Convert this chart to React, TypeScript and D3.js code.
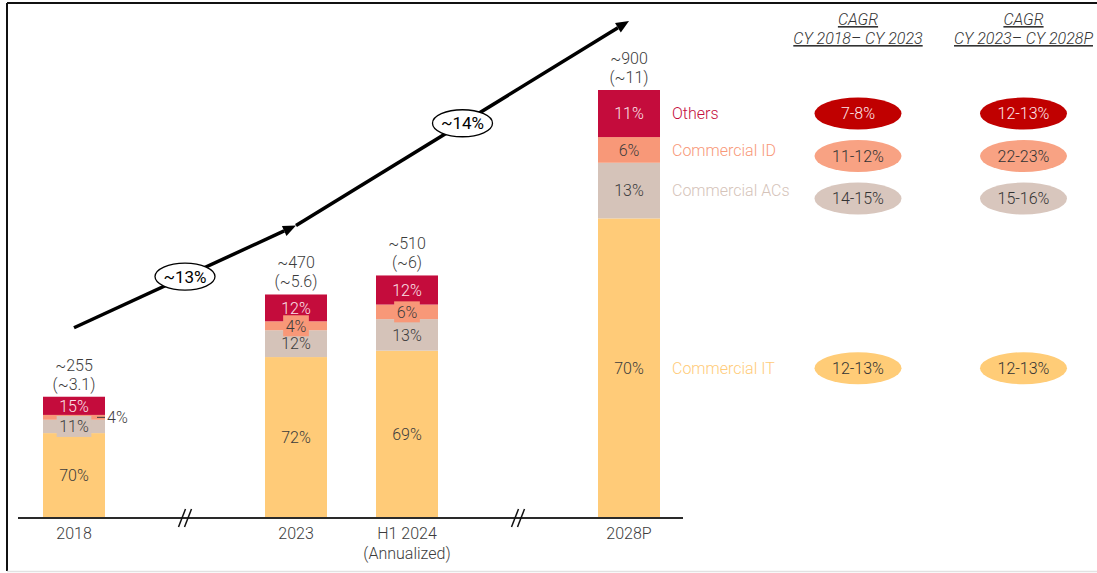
import React from "react";
import * as d3 from "d3";

// ---------- data ----------
const CATEGORIES = ["2018", "2023", "H1 2024", "2028P"];
const CATEGORY_LINES = [["2018"], ["2023"], ["H1 2024", "(Annualized)"], ["2028P"]];
const SLOTS = ["2018", "break1", "2023", "H1 2024", "break2", "2028P"];
const BREAKS = ["break1", "break2"];
const TOTALS = [255, 470, 510, 900];
const TOTAL_LABELS = ["~255", "~470", "~510", "~900"];
const TOTAL_SUB = ["(~3.1)", "(~5.6)", "(~6)", "(~11)"];
const SEGMENTS = ["Commercial IT", "Commercial ACs", "Commercial ID", "Others"];
const IT_SHARE = [70, 72, 69, 70];
const AC_SHARE = [11, 12, 13, 13];
const ID_SHARE = [4, 4, 6, 6];
const OTHERS_SHARE = [15, 12, 12, 11];
const CAGR_HEAD = ["CY 2018\u2013 CY 2023", "CY 2023\u2013 CY 2028P"];
const CAGR_18_23 = ["12-13%", "14-15%", "11-12%", "7-8%"];
const CAGR_23_28 = ["12-13%", "15-16%", "22-23%", "12-13%"];
const GROWTH_LABELS = ["~13%", "~14%"];
const GROWTH_FROM_TO = [["2018", "2023"], ["2023", "2028P"]];

// ---------- style ----------
const BAR_COLORS = ["#ffcb78", "#d5c3b9", "#f89878", "#c40c3c"];
const PILL_COLORS = ["#ffcc77", "#d8c6bd", "#f8a283", "#c00000"];
const LABEL_COLORS = ["#3c3c3c", "#3c3c3c", "#3c3c3c", "#fbe3ea"];
const PILL_TEXT = ["#333", "#333", "#333", "#fde6ea"];
const FONT = "Roboto, 'Noto Sans', sans-serif";

export default function App() {
  const W = 1097, H = 573;
  const baseY = 518;
  const x = d3.scalePoint<string>().domain(SLOTS).range([74, 629]);
  const y = d3.scaleLinear().domain([0, 900]).range([baseY, 90]);
  const barW = 62;

  const shares = [IT_SHARE, AC_SHARE, ID_SHARE, OTHERS_SHARE];
  const table = CATEGORIES.map((c, i) => {
    const row: any = { cat: c };
    SEGMENTS.forEach((s, k) => (row[s] = (TOTALS[i] * shares[k][i]) / 100));
    return row;
  });
  const stacked = d3.stack<any>().keys(SEGMENTS)(table);

  const charW = (t: string) =>
    t.split("").reduce((a, ch) => a + (ch === "%" ? 11.7 : 9), 0);

  // arrow points: above bar tops at bar centers
  const arrowPt = (cat: string) => {
    const i = CATEGORIES.indexOf(cat);
    return [x(cat)!, y(TOTALS[i]) - 69] as [number, number];
  };

  const head = (p0: [number, number], p1: [number, number]) => {
    const dx = p1[0] - p0[0], dy = p1[1] - p0[1];
    const L = Math.hypot(dx, dy);
    const ux = dx / L, uy = dy / L;
    const hl = 13, hw = 5.5;
    const bx = p1[0] - ux * hl, by = p1[1] - uy * hl;
    return {
      base: [bx, by],
      poly: `${p1[0]},${p1[1]} ${bx - uy * hw},${by + ux * hw} ${bx + uy * hw},${by - ux * hw}`,
    };
  };

  // legend / table rows
  const last = CATEGORIES.length - 1;
  const segCenter = (k: number) => {
    const s = stacked[k][last];
    return (y(s[0]) + y(s[1])) / 2;
  };
  const othersY = segCenter(3);
  const pillRowY = [segCenter(0), othersY + 85, othersY + 42.5, othersY];
  const colX = [858, 1023.5];

  return (
    <svg
      width={W}
      height={H}
      style={{ position: "absolute", left: 0, top: 0, background: "#fff" }}
      fontFamily={FONT}
    >
      {/* frame */}
      <line x1={7} y1={3} x2={W} y2={3} stroke="#111" strokeWidth={2} />
      <line x1={7} y1={3} x2={7} y2={571} stroke="#111" strokeWidth={2} />
      <line x1={7} y1={571.5} x2={W} y2={571.5} stroke="#e2e2e2" strokeWidth={1.5} />

      {/* bars */}
      {stacked.map((layer, k) =>
        layer.map((d, i) => (
          <rect
            key={`b${k}-${i}`}
            x={x(CATEGORIES[i])! - barW / 2}
            y={y(d[1])}
            width={barW}
            height={y(d[0]) - y(d[1])}
            fill={BAR_COLORS[k]}
          />
        ))
      )}

      {/* segment labels */}
      {stacked.map((layer, k) =>
        layer.map((d, i) => {
          const cx = x(CATEGORIES[i])!;
          const top = y(d[1]), bot = y(d[0]);
          const h = bot - top;
          const cy = (top + bot) / 2;
          const t = `${shares[k][i]}%`;
          if (h < 8) {
            return (
              <g key={`l${k}-${i}`}>
                <line x1={cx + barW / 2 - 8} x2={cx + barW / 2} y1={cy} y2={cy} stroke="#3c3c3c" strokeWidth={1} />
                <text x={cx + barW / 2 + 2} y={cy} dy="0.35em" fontSize={16} fontWeight={300} fill="#3c3c3c">
                  {t}
                </text>
              </g>
            );
          }
          const tw = charW(t) + 5;
          return (
            <g key={`l${k}-${i}`}>
              {h < 21 && k < 3 && (
                <rect x={cx - tw / 2} y={cy - 10.5} width={tw} height={21} fill={BAR_COLORS[k]} />
              )}
              <text x={cx} y={cy} dy="0.36em" textAnchor="middle" fontSize={16} fontWeight={300} fill={LABEL_COLORS[k]}>
                {t}
              </text>
            </g>
          );
        })
      )}

      {/* totals */}
      {CATEGORIES.map((c, i) => {
        const top = y(TOTALS[i]);
        return (
          <g key={`t${i}`} fontSize={16} fontWeight={300} fill="#3c3c3c" textAnchor="middle">
            <text x={x(c)} y={top - 26}>{TOTAL_LABELS[i]}</text>
            <text x={x(c)} y={top - 7}>{TOTAL_SUB[i]}</text>
          </g>
        );
      })}

      {/* axis */}
      <line x1={18} x2={683} y1={baseY} y2={baseY} stroke="#2a2a2a" strokeWidth={2} />
      {BREAKS.map((b) => {
        const cx = x(b)!;
        return (
          <g key={b} stroke="#111" strokeWidth={1.5}>
            {[-3, 3].map((o) => (
              <line key={o} x1={cx + o - 3.5} y1={baseY + 9} x2={cx + o + 3.5} y2={baseY - 9} />
            ))}
          </g>
        );
      })}
      {CATEGORIES.map((c, i) => (
        <g key={`x${i}`} fontSize={16} fontWeight={300} fill="#3c3c3c" textAnchor="middle">
          {CATEGORY_LINES[i].map((ln, j) => (
            <text key={j} x={x(c)} y={539 + j * 20}>{ln}</text>
          ))}
        </g>
      ))}

      {/* growth arrows */}
      {GROWTH_FROM_TO.map(([a, b], gi) => {
        const p0 = arrowPt(a), p1 = arrowPt(b);
        const hd = head(p0, p1);
        const mx = (p0[0] + p1[0]) / 2, my = (p0[1] + p1[1]) / 2;
        return (
          <g key={`g${gi}`}>
            <line x1={p0[0]} y1={p0[1]} x2={hd.base[0]} y2={hd.base[1]} stroke="#000" strokeWidth={3.5} />
            <polygon points={hd.poly} fill="#000" />
            <ellipse cx={mx} cy={my} rx={30} ry={13.5} fill="#fff" stroke="#000" strokeWidth={1.3} />
            <text x={mx} y={my} dy="0.36em" textAnchor="middle" fontSize={17} fill="#000">
              {GROWTH_LABELS[gi]}
            </text>
          </g>
        );
      })}

      {/* legend labels next to last bar */}
      {SEGMENTS.map((s, k) => (
        <text key={`lg${k}`} x={672} y={segCenter(k)} dy="0.36em" fontSize={16} fontWeight={300} fill={BAR_COLORS[k]}>
          {s}
        </text>
      ))}

      {/* CAGR headers */}
      {CAGR_HEAD.map((h, ci) => (
        <g key={`h${ci}`} fontSize={16} fontStyle="italic" fontWeight={300} fill="#333" textAnchor="middle" textDecoration="underline">
          <text x={colX[ci]} y={25}>CAGR</text>
          <text x={colX[ci]} y={44}>{h}</text>
        </g>
      ))}

      {/* CAGR pills */}
      {[CAGR_18_23, CAGR_23_28].map((col, ci) =>
        col.map((v, k) => (
          <g key={`p${ci}-${k}`}>
            <ellipse cx={colX[ci]} cy={pillRowY[k]} rx={43.5} ry={16} fill={PILL_COLORS[k]} />
            <text x={colX[ci]} y={pillRowY[k]} dy="0.36em" textAnchor="middle" fontSize={16} fontWeight={300} fill={PILL_TEXT[k]}>
              {v}
            </text>
          </g>
        ))
      )}
    </svg>
  );
}
